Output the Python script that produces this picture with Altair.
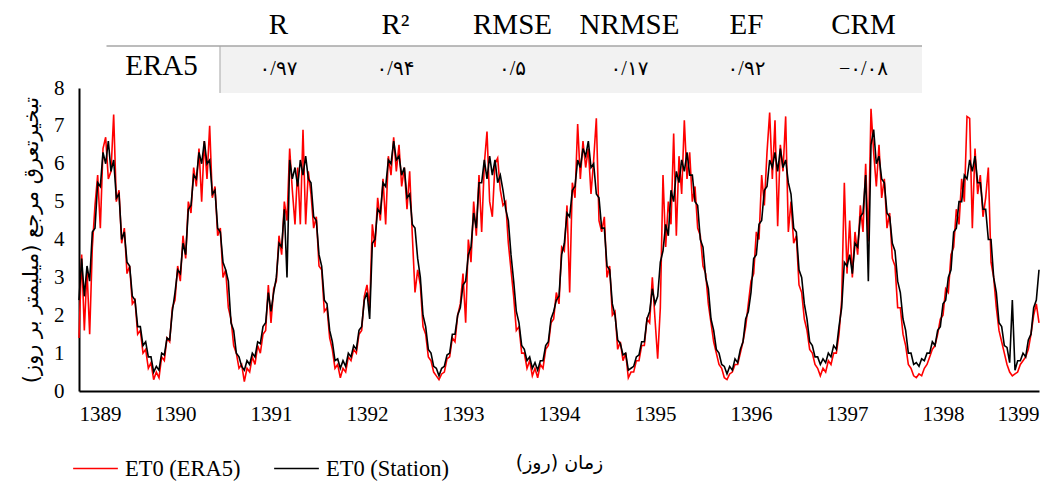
import altair as alt
import pandas as pd

# ---------------- table values ----------------
metric_names = ["R", "R²", "RMSE", "NRMSE", "EF", "CRM"]
era5_scores = ["۰/۹۷", "۰/۹۴", "۰/۵", "۰/۱۷", "۰/۹۲", "−۰/۰۸"]
row_label = "ERA5"

# ---------------- series values (36 readings per year) ----------------
station_1389 = [2.4,3.5,2.5,3.3,2.9,4.2,4.3,5.5,5.4,6.3,6.0,6.6,5.8,6.1,5.1,5.2,4.0,4.2,3.4,3.3,2.5,2.4,1.7,1.7,1.2,1.3,0.9,0.9,0.5,0.65,0.55,1.0,0.95,1.4,1.35,2.1]
era5_1389 = [1.4,3.6,1.6,3.2,1.5,3.8,4.9,5.7,4.3,6.4,6.7,5.6,5.8,7.3,5.0,5.3,3.9,4.3,3.1,3.3,2.3,2.4,1.5,1.6,1.0,1.1,0.6,0.75,0.3,0.5,0.35,0.9,0.8,1.4,1.3,2.2]
station_1390 = [2.6,3.2,3.1,3.9,3.6,4.8,4.9,5.7,5.6,6.3,6.0,6.6,6.0,6.1,5.2,5.3,4.3,4.2,3.4,3.2,2.9,1.8,1.6,1.0,0.9,0.65,0.55,0.8,0.7,1.0,0.9,1.3,1.25,1.7,1.8,2.6]
era5_1390 = [2.4,3.3,2.9,4.1,3.5,5.0,4.7,5.9,5.4,6.4,5.0,6.6,5.6,7.0,5.1,5.4,4.1,4.3,3.0,3.2,2.2,1.9,1.2,1.0,0.6,0.7,0.25,0.6,0.5,0.9,0.7,1.2,1.0,1.5,1.6,2.8]
station_1391 = [2.1,2.6,3.0,3.9,3.8,4.8,3.0,6.1,5.6,5.9,5.4,6.1,5.7,6.2,5.6,5.5,4.6,4.5,3.6,3.3,2.4,2.3,1.6,1.3,0.8,0.85,0.6,0.8,0.65,1.0,0.9,1.2,1.1,1.6,1.7,2.4]
era5_1391 = [1.8,2.7,2.9,4.1,3.6,5.0,4.5,6.4,5.3,4.4,5.9,4.4,6.9,4.4,5.8,5.2,4.3,4.6,3.3,3.2,2.1,2.2,1.4,1.1,0.6,0.7,0.35,0.6,0.5,0.9,0.8,1.1,1.0,1.5,1.6,2.5]
station_1392 = [2.6,1.9,3.9,4.0,4.8,4.7,5.5,5.4,6.1,6.0,6.6,6.1,6.2,5.7,5.9,5.1,5.2,4.4,4.3,3.5,3.0,2.0,1.7,1.1,1.0,0.65,0.6,0.4,0.6,0.65,0.95,1.0,1.5,1.5,2.0,2.2]
era5_1392 = [2.8,2.2,4.4,3.8,5.1,4.5,5.6,4.4,6.2,5.7,6.7,5.8,6.5,5.4,5.9,4.8,5.8,4.1,2.6,3.2,2.8,1.7,1.5,0.9,0.8,0.5,0.4,0.3,0.45,0.5,0.85,0.9,1.4,1.3,2.0,2.3]
station_1393 = [2.8,2.9,3.6,3.8,4.7,4.3,5.5,5.5,6.1,5.6,6.2,5.7,6.1,5.5,5.7,5.3,4.8,4.5,3.6,2.9,2.1,1.8,1.2,1.1,0.8,0.9,0.6,0.75,0.55,0.8,0.8,1.2,1.3,1.9,2.1,2.4]
era5_1393 = [3.1,1.8,4.0,3.4,5.0,4.1,5.7,4.2,6.0,6.85,5.0,4.6,6.0,6.15,5.3,4.9,5.0,3.9,3.2,2.5,1.6,1.7,1.0,1.0,0.6,0.8,0.4,0.6,0.35,0.7,0.6,1.1,1.2,1.8,1.9,2.6]
station_1394 = [2.5,3.6,3.9,4.7,4.6,5.3,5.4,6.1,5.9,6.4,6.2,6.6,5.9,6.0,5.2,5.1,4.3,4.3,3.3,3.2,2.3,2.0,1.35,1.25,0.95,1.0,0.55,0.6,0.65,0.9,0.95,1.3,1.3,1.9,2.1,2.7]
era5_1394 = [2.3,3.8,3.7,4.9,2.6,5.5,5.1,7.05,5.6,6.6,5.9,6.4,5.2,6.1,7.2,4.5,4.2,4.6,3.0,3.3,2.0,2.1,1.1,1.3,0.8,1.0,0.35,0.5,0.5,0.8,0.8,1.2,1.2,1.9,1.8,3.0]
station_1395 = [2.3,2.5,3.4,3.7,4.4,4.1,5.3,5.0,5.8,5.5,6.1,5.8,6.3,5.7,5.7,5.0,4.9,4.0,3.8,3.0,2.7,1.9,1.6,1.1,1.0,0.7,0.65,0.45,0.65,0.55,0.85,0.75,1.1,1.3,1.9,2.1]
era5_1395 = [1.9,0.85,2.2,5.7,3.8,5.0,4.4,6.8,4.1,6.2,5.2,7.15,5.6,6.3,5.0,5.4,4.3,4.1,3.3,3.1,2.3,1.8,1.3,1.0,0.7,0.6,0.35,0.3,0.45,0.5,0.7,0.7,1.0,1.3,1.7,2.3]
station_1396 = [2.6,3.5,3.6,4.4,4.5,5.3,5.4,6.1,5.9,6.3,5.8,6.4,5.9,6.1,5.5,5.2,4.3,4.2,3.2,3.0,2.3,1.9,1.3,1.2,0.9,0.9,0.7,0.85,0.75,1.0,0.9,1.2,1.1,1.7,2.2,3.4]
era5_1396 = [2.9,3.1,4.2,4.0,5.7,4.9,6.3,7.35,5.6,7.15,4.35,6.5,5.8,7.25,4.2,5.0,3.9,4.1,2.8,2.6,1.9,1.6,1.1,1.0,0.7,0.6,0.4,0.6,0.5,0.8,0.7,1.0,1.0,1.5,2.4,5.5]
station_1397 = [3.3,3.6,3.1,3.9,3.8,4.6,4.7,5.7,2.9,6.5,6.9,6.0,6.2,5.6,5.5,4.7,4.6,3.9,3.7,2.9,2.6,1.9,1.6,1.0,1.0,0.7,0.75,0.65,0.85,0.8,1.0,1.0,1.3,1.2,1.6,1.7]
era5_1397 = [3.1,4.5,3.0,4.2,3.6,4.9,4.2,6.0,3.95,7.45,6.3,5.4,6.5,5.1,5.6,4.3,4.7,3.5,3.3,2.2,2.2,1.5,1.2,0.7,0.6,0.4,0.35,0.45,0.4,0.6,0.7,0.9,1.1,1.2,1.5,1.9]
station_1398 = [2.3,2.4,3.0,3.2,4.2,4.3,5.0,5.0,5.7,5.6,6.1,5.8,6.2,5.5,5.5,4.8,4.8,4.0,4.0,3.0,2.6,1.8,1.7,1.2,1.15,0.75,2.4,0.55,0.8,0.8,1.0,0.9,1.35,1.5,2.2,2.4]
era5_1398 = [2.0,2.7,2.6,3.6,3.8,4.8,4.4,5.6,5.0,7.25,7.2,4.3,6.4,5.2,5.7,4.6,5.1,5.9,3.4,3.0,2.2,1.6,1.3,1.0,0.7,0.5,0.4,0.45,0.5,0.7,0.8,0.9,1.1,1.5,2.0,2.3]
station_end_1399 = 3.2
era5_end_1399 = 1.8

years = [1389, 1390, 1391, 1392, 1393, 1394, 1395, 1396, 1397, 1398]
station_years = [station_1389, station_1390, station_1391, station_1392, station_1393,
                 station_1394, station_1395, station_1396, station_1397, station_1398]
era5_years = [era5_1389, era5_1390, era5_1391, era5_1392, era5_1393,
              era5_1394, era5_1395, era5_1396, era5_1397, era5_1398]
series_names = ["ET0 (ERA5)", "ET0 (Station)"]

rows = []
for name, per_year, end_val in [(series_names[0], era5_years, era5_end_1399),
                                (series_names[1], station_years, station_end_1399)]:
    for yr, vals in zip(years, per_year):
        n = len(vals)
        for i, v in enumerate(vals):
            rows.append({"t": yr + i / n, "et0": v, "series": name})
    rows.append({"t": years[-1] + 1, "et0": end_val, "series": name})
series_df = pd.DataFrame(rows)

# ---------------- table chart ----------------
SERIF = "Liberation Serif"
MIXED = "Liberation Serif, DejaVu Sans"

header_df = pd.DataFrame({"c": [i + 1.5 for i in range(len(metric_names))],
                          "r": [1.436] * len(metric_names), "txt": metric_names})
value_df = pd.DataFrame({"c": [i + 1.5 for i in range(len(era5_scores))],
                         "r": [0.5] * len(era5_scores), "txt": era5_scores})
label_df = pd.DataFrame({"c": [0.5], "r": [0.58], "txt": [row_label]})
ncols = len(metric_names) + 1
shade_df = pd.DataFrame({"x0": [1], "x1": [ncols], "y0": [0], "y1": [1]})
hline_df = pd.DataFrame({"x0": [0.03], "x1": [ncols], "y0": [1]})
vline_df = pd.DataFrame({"x0": [1], "y0": [0], "y1": [1]})

tx = alt.Scale(domain=[-0.205, 8.0], nice=False, zero=False)
ty = alt.Scale(domain=[0.106, 1.723], nice=False, zero=False)

shade = alt.Chart(shade_df).mark_rect(color="#f2f2f2", clip=False).encode(
    x=alt.X("x0:Q", scale=tx, axis=None), x2="x1:Q",
    y=alt.Y("y0:Q", scale=ty, axis=None), y2="y1:Q")
hline = alt.Chart(hline_df).mark_rule(color="#a6a6a6", strokeWidth=1.5).encode(
    x=alt.X("x0:Q", scale=tx, axis=None), x2="x1:Q",
    y=alt.Y("y0:Q", scale=ty, axis=None))
vline = alt.Chart(vline_df).mark_rule(color="#a6a6a6", strokeWidth=1).encode(
    x=alt.X("x0:Q", scale=tx, axis=None),
    y=alt.Y("y0:Q", scale=ty, axis=None), y2="y1:Q")
headers = alt.Chart(header_df).mark_text(font=SERIF, fontSize=29, color="black").encode(
    x=alt.X("c:Q", scale=tx, axis=None), y=alt.Y("r:Q", scale=ty, axis=None), text="txt:N")
values = alt.Chart(value_df).mark_text(font=MIXED, fontSize=20, color="black").encode(
    x=alt.X("c:Q", scale=tx, axis=None), y=alt.Y("r:Q", scale=ty, axis=None), text="txt:N")
rowlab = alt.Chart(label_df).mark_text(font=SERIF, fontSize=29, color="black").encode(
    x=alt.X("c:Q", scale=tx, axis=None), y=alt.Y("r:Q", scale=ty, axis=None), text="txt:N")

table = alt.layer(shade, hline, vline, headers, values, rowlab).properties(width=960, height=76)

# ---------------- line chart ----------------
x_title = "\u200fزمان (روز)\u200f"
y_title = "\u200fتبخیرتعرق مرجع (میلیمتر بر روز)\u200f"

lines = alt.Chart(series_df).mark_line(strokeWidth=1.6).encode(
    x=alt.X("t:Q",
            scale=alt.Scale(domain=[1389, 1399], nice=False, zero=False),
            axis=alt.Axis(values=list(range(1389, 1400)), format="d", title=x_title,
                          labelFont=SERIF, labelFontSize=21, labelColor="black",
                          labelPadding=12, ticks=False, grid=False,
                          domainColor="black", domainWidth=2,
                          titleFont="DejaVu Sans", titleFontSize=19, titleFontWeight="normal",
                          titleColor="black", titlePadding=29)),
    y=alt.Y("et0:Q",
            scale=alt.Scale(domain=[0, 8], nice=False),
            axis=alt.Axis(values=list(range(0, 9)), title=y_title,
                          labelFont=SERIF, labelFontSize=21, labelColor="black",
                          labelPadding=15, ticks=False, grid=False,
                          domainColor="black", domainWidth=2,
                          titleFont="DejaVu Sans", titleFontSize=21, titleFontWeight="normal",
                          titleColor="black", titlePadding=12)),
    color=alt.Color("series:N",
                    scale=alt.Scale(domain=series_names, range=["#ff0000", "#000000"]),
                    legend=alt.Legend(title=None, orient="none", legendX=-7, legendY=433,
                                      direction="horizontal", symbolType="stroke",
                                      symbolSize=2000, symbolStrokeWidth=1.5,
                                      labelFont=SERIF, labelFontSize=22.5, labelColor="black",
                                      labelOffset=6, columnPadding=30)),
).properties(width=960, height=303)

chart = alt.vconcat(table, lines, spacing=0, bounds="flush").properties(
    padding={"left": 12, "top": 3, "right": 5, "bottom": 5}
).configure_view(stroke=None)

chart.save("out.html", embed_options={"renderer": "svg", "actions": False})
